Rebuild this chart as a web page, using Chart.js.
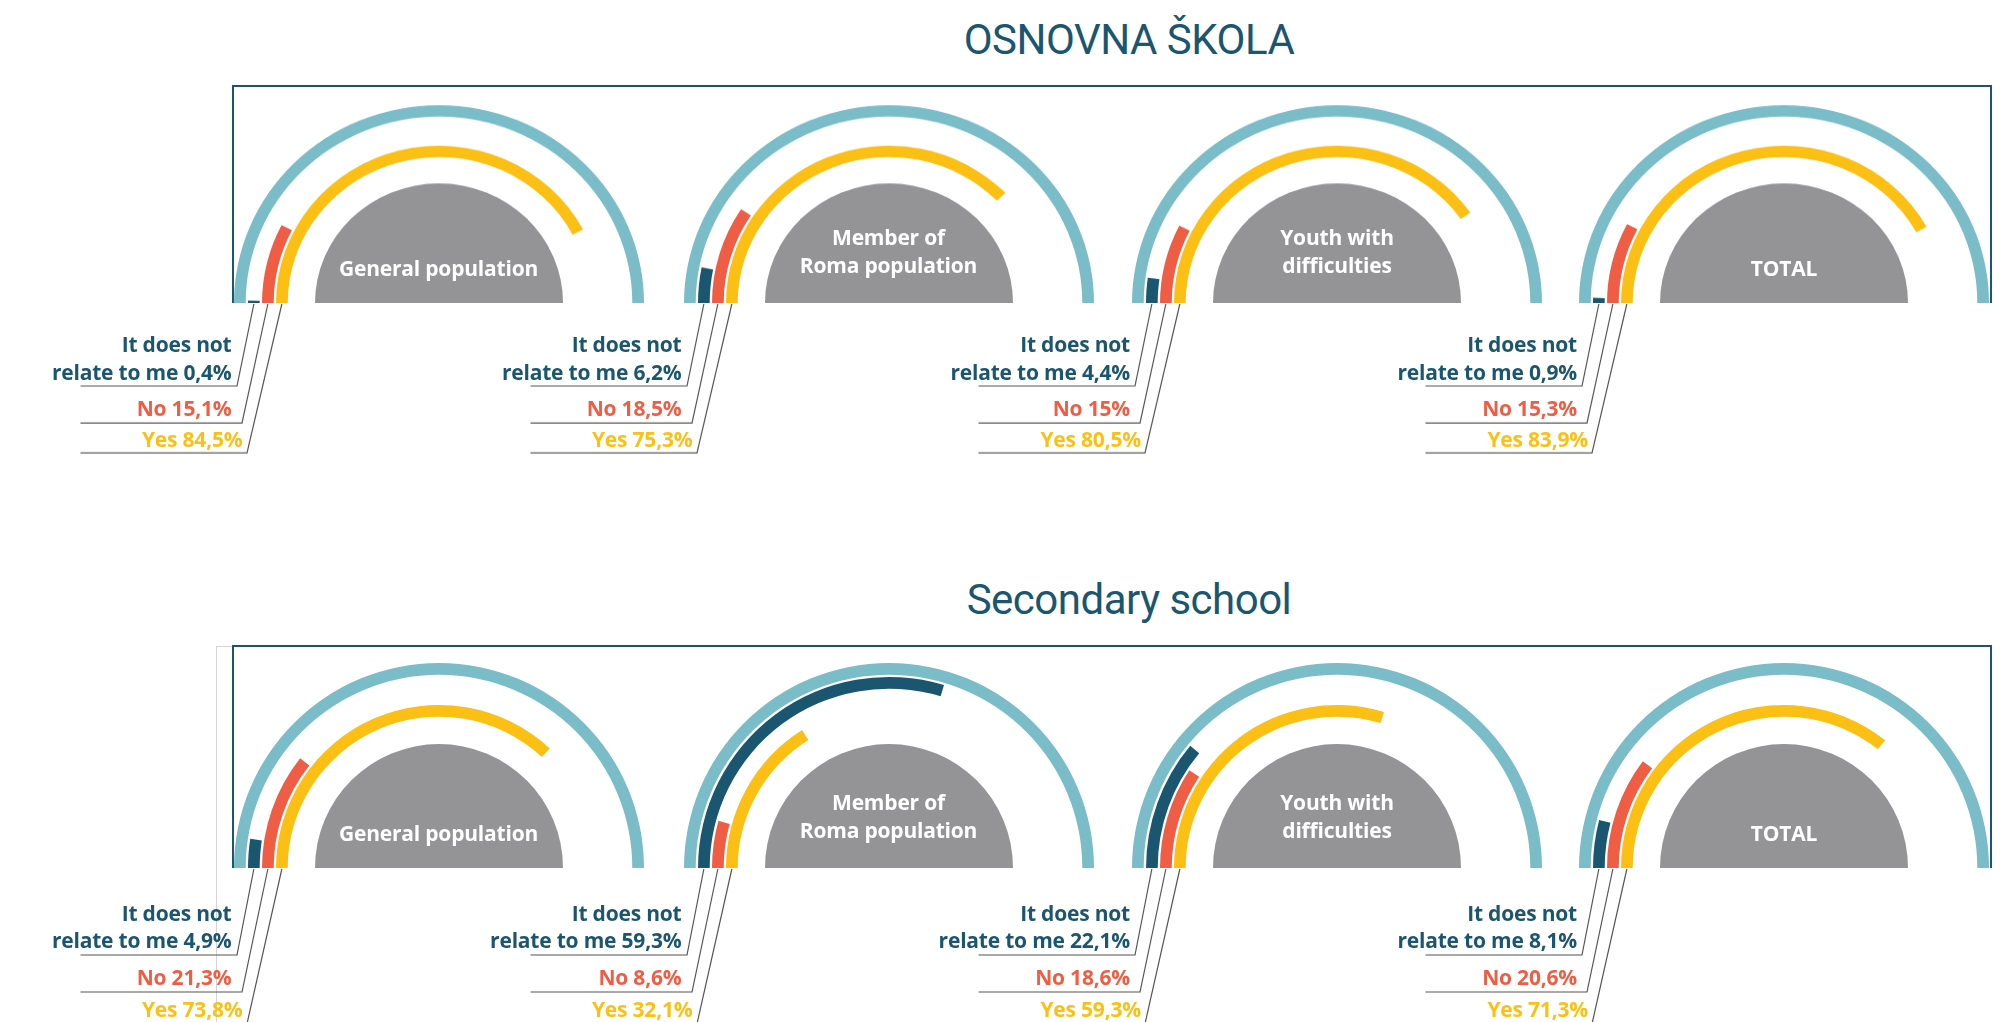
<!DOCTYPE html>
<html lang="sr">
<head>
  <meta charset="UTF-8">
  <title>Osnovna škola / Secondary school</title>
  <script src="https://cdn.jsdelivr.net/npm/chart.js@4"></script>
  <style>
    body { margin: 0; width: 2011px; height: 1022px; position: relative; overflow: hidden; background: #fff; font-family: 'Open Sans', Lato, sans-serif; }
    .title { position: absolute; left: 829px; width: 600px; text-align: center; font-family: Roboto, sans-serif; font-size: 42px; color: #1b5670; line-height: 50px; letter-spacing: -0.5px; }
    .frame { position: absolute; box-sizing: border-box; border: 2px solid #1b5670; border-bottom: none; }
    .ghost { position: absolute; box-sizing: border-box; border-left: 1.5px solid #d4d4d4; border-top: 1.5px solid #d4d4d4; }
    .gauge { position: absolute; width: 580px; height: 380px; }
    .gauge canvas { position: absolute; left: 0; top: 0; transform-origin: 0 215px; }
    .lbl { position: absolute; left: -200px; text-align: right; font-weight: 700; font-size: 21px; line-height: 26px; white-space: nowrap; letter-spacing: -0.2px; }
    .inner { position: absolute; left: 210px; width: 300px; text-align: center; color: #fff; font-weight: 700; font-size: 21px; line-height: 28px; letter-spacing: -0.2px; }
  </style>
</head>
<body>
  <div class="title" style="top:15px">OSNOVNA ŠKOLA</div>
  <div class="title" style="top:575px">Secondary school</div>
  <div class="frame" style="left:232px; top:85px; width:1760px; height:218px"></div>
  <div class="ghost" style="left:216px; top:646px; width:18px; height:400px"></div>
  <div class="frame" style="left:232px; top:645px; width:1760px; height:223px"></div>
  <div id="charts"></div>

  <script>
    // grupe ispitanika
    const groups = ['General population', 'Member of\nRoma population', 'Youth with\ndifficulties', 'TOTAL'];
    const answers = ['It does not\nrelate to me', 'No', 'Yes'];

    // osnovna skola (%)
    const primaryNotRelate = [0.4, 6.2, 4.4, 0.9];
    const primaryNo = [15.1, 18.5, 15, 15.3];
    const primaryYes = [84.5, 75.3, 80.5, 83.9];

    // srednja skola (%)
    const secondaryNotRelate = [4.9, 59.3, 22.1, 8.1];
    const secondaryNo = [21.3, 8.6, 18.6, 20.6];
    const secondaryYes = [73.8, 32.1, 59.3, 71.3];

    const boje = { okvir: '#7bbcc9', tamna: '#1b5670', crvena: '#ef5d44', zuta: '#fcbf13', siva: '#949497', nista: 'rgba(0,0,0,0)' };

    const centriX = [438.5, 888.5, 1337, 1784];
    // gornji red je u originalu malo spljosten po visini
    const redovi = [
      { baza: 303, spljosti: 0.965, notRelate: primaryNotRelate, no: primaryNo, yes: primaryYes, tekst: [41, 69, 105, 136], linije: [83, 120, 150] },
      { baza: 868, spljosti: 1, notRelate: secondaryNotRelate, no: secondaryNo, yes: secondaryYes, tekst: [45, 72, 109, 141], linije: [87, 124, 156] }
    ];
    const krajLinije = [-202, -197, -192];

    function fmt(v) { return String(v).replace('.', ',') + '%'; }

    function prsten(v, boja) {
      return { data: [v, 100 - v], backgroundColor: [boja, boje.nista], borderWidth: 0, weight: 11.7 };
    }
    function razmak(w) {
      return { data: [100], backgroundColor: [boje.nista], borderWidth: 0, weight: w };
    }

    const linijePlugin = {
      id: 'linije',
      afterDraw(chart) {
        const ctx = chart.ctx;
        const red = chart.options.plugins.linije;
        ctx.save();
        ctx.strokeStyle = '#555';
        ctx.lineWidth = 1.2;
        [2, 4, 6].forEach((idx, j) => {
          const arc = chart.getDatasetMeta(idx).data[0];
          const sx = arc.x - (arc.innerRadius + arc.outerRadius) / 2;
          const ey = arc.y + red.linije[j] / red.spljosti;
          ctx.beginPath();
          ctx.moveTo(sx, arc.y + 1);
          ctx.lineTo(arc.x + krajLinije[j], ey);
          ctx.lineTo(arc.x - 358.5, ey);
          ctx.stroke();
        });
        ctx.restore();
      }
    };

    const host = document.getElementById('charts');

    redovi.forEach(red => {
      groups.forEach((g, i) => {
        const div = document.createElement('div');
        div.className = 'gauge';
        div.style.left = (centriX[i] - 360) + 'px';
        div.style.top = (red.baza - 215) + 'px';
        const canvas = document.createElement('canvas');
        canvas.width = 580;
        canvas.height = 380;
        canvas.style.transform = 'scaleY(' + red.spljosti + ')';
        div.appendChild(canvas);

        // natpis u sredini
        const lines = g.split('\n');
        const inner = document.createElement('div');
        inner.className = 'inner';
        inner.innerHTML = lines.join('<br>');
        inner.style.top = (215 - (lines.length === 1 ? 49 : 80)) + 'px';
        div.appendChild(inner);

        // oznake levo
        const vals = [red.notRelate[i], red.no[i], red.yes[i]];
        const colors = [boje.tamna, boje.crvena, boje.zuta];
        const texts = [
          answers[0].split('\n')[0],
          answers[0].split('\n')[1] + ' ' + fmt(vals[0]),
          answers[1] + ' ' + fmt(vals[1]),
          answers[2] + ' ' + fmt(vals[2])
        ];
        const tcol = [colors[0], colors[0], colors[1], colors[2]];
        texts.forEach((t, k) => {
          const el = document.createElement('div');
          el.className = 'lbl';
          el.textContent = t;
          el.style.color = tcol[k];
          el.style.width = (k === 3 ? 364 : 353) + 'px';
          el.style.top = (215 + red.tekst[k] - 13) + 'px';
          div.appendChild(el);
        });

        host.appendChild(div);

        new Chart(canvas, {
          type: 'doughnut',
          data: {
            labels: ['value', 'rest'],
            datasets: [
              { data: [100], backgroundColor: [boje.okvir], borderWidth: 0, weight: 11.7 },
              razmak(2.3),
              prsten(vals[0], boje.tamna),
              razmak(2.3),
              prsten(vals[1], boje.crvena),
              razmak(2.3),
              prsten(vals[2], boje.zuta),
              razmak(27.3),
              { data: [100], backgroundColor: [boje.siva], borderWidth: 0, weight: 124 }
            ]
          },
          options: {
            responsive: false,
            animation: false,
            events: [],
            rotation: -90,
            circumference: 180,
            cutout: 0,
            elements: { arc: { borderWidth: 0 } },
            layout: { padding: { left: 155, right: 15, top: 10, bottom: 165 } },
            plugins: { legend: { display: false }, tooltip: { enabled: false }, linije: red }
          },
          plugins: [linijePlugin]
        });
      });
    });
  </script>
</body>
</html>
